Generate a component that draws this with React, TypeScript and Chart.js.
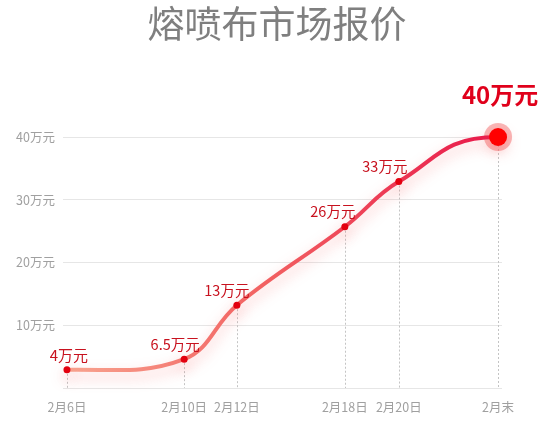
import React, { useEffect, useRef } from "react";
import { Chart, registerables } from "chart.js";

Chart.register(...registerables);

const categories = ["2月6日", "2月10日", "2月12日", "2月18日", "2月20日", "2月末"];
const xPositions = [0.9, 27.6, 39.6, 64.2, 76.5, 99.1];
const prices = [2.9, 4.6, 13.2, 25.7, 32.9, 40];
const priceLabels = ["4万元", "6.5万元", "13万元", "26万元", "33万元", "40万元"];
const yTickValues = [0, 10, 20, 30, 40];
const title = "熔喷布市场报价";

const FONT = '"Noto Sans CJK SC", "Noto Sans", sans-serif';
const labelDx = [2, -9, -10, -12, -14, 2];

const decorPlugin = {
  id: "decor",
  beforeDraw(chart: any) {
    const c = chart.ctx;
    c.save();
    c.fillStyle = "#7f7f7f";
    c.font = `37px ${FONT}`;
    c.textAlign = "center";
    c.textBaseline = "middle";
    c.fillText(title, 277, 24);
    c.restore();
  },
  beforeDatasetDraw(chart: any, args: any) {
    const meta = args.meta;
    const line = meta.dataset;
    if (!line) return;
    line.updateControlPoints(chart.chartArea, meta.iAxis);
    const pts = meta.data;
    const n = pts.length;
    if (n > 1) {
      const last = pts[n - 1];
      const prev = pts[n - 2];
      last.cp1x = last.x - (last.x - prev.x) * 0.55;
      last.cp1y = last.y;
      const first = pts[0];
      const second = pts[1];
      first.cp2x = first.x + (second.x - first.x) * 0.4;
      first.cp2y = first.y - 1;
    }
  },
  beforeDatasetsDraw(chart: any) {
    const c = chart.ctx;
    const meta = chart.getDatasetMeta(0);
    const bottom = chart.chartArea.bottom;
    c.save();
    c.strokeStyle = "#c4c4c4";
    c.lineWidth = 1;
    c.setLineDash([2, 2]);
    meta.data.forEach((p: any) => {
      c.beginPath();
      c.moveTo(Math.round(p.x) + 0.5, p.y);
      c.lineTo(Math.round(p.x) + 0.5, bottom);
      c.stroke();
    });
    c.setLineDash([]);
    const last = meta.data[meta.data.length - 1];
    c.fillStyle = "rgba(244, 120, 120, 0.55)";
    c.beginPath();
    c.arc(last.x, last.y, 14, 0, Math.PI * 2);
    c.fill();
    c.restore();
    c.save();
    c.shadowColor = "rgba(245, 90, 90, 0.38)";
    c.shadowBlur = 14;
    c.shadowOffsetY = 6;
  },
  afterDatasetsDraw(chart: any) {
    const c = chart.ctx;
    c.restore();
    const meta = chart.getDatasetMeta(0);
    c.save();
    c.textAlign = "center";
    c.textBaseline = "middle";
    meta.data.forEach((p: any, i: number) => {
      if (i === meta.data.length - 1) {
        c.font = `bold 24px ${FONT}`;
        c.fillStyle = "#e0001b";
        c.fillText(priceLabels[i], p.x + labelDx[i], p.y - 42);
      } else {
        c.font = `${i === 0 ? 15 : 14.5}px ${FONT}`;
        c.fillStyle = "#c8121f";
        c.fillText(priceLabels[i], p.x + labelDx[i], p.y - 15);
      }
    });
    c.restore();
  },
};

export default function App() {
  const ref = useRef<HTMLCanvasElement>(null);
  useEffect(() => {
    if (!ref.current) return;
    const chart = new Chart(ref.current, {
      type: "line",
      data: {
        datasets: [
          {
            data: xPositions.map((x, i) => ({ x, y: prices[i] })),
            borderWidth: 4,
            tension: 0.4,
            clip: false,
            borderColor: (ctx: any) => {
              const { chart } = ctx;
              const area = chart.chartArea;
              if (!area) return "#f06060";
              const g = chart.ctx.createLinearGradient(area.left, 0, area.right, 0);
              g.addColorStop(0, "#f8a590");
              g.addColorStop(0.45, "#f26262");
              g.addColorStop(1, "#e8174a");
              return g;
            },
            pointRadius: prices.map((_, i) => (i === prices.length - 1 ? 9 : 3.5)),
            pointBackgroundColor: prices.map((_, i) => (i === prices.length - 1 ? "#ff0000" : "#e3000f")),
            pointBorderWidth: 0,
            pointHoverRadius: 0,
          } as any,
        ],
      },
      options: {
        animation: false,
        responsive: true,
        maintainAspectRatio: false,
        layout: { padding: { top: 137, right: 48, left: 0, bottom: 0 } },
        plugins: { legend: { display: false }, tooltip: { enabled: false }, title: { display: false } },
        scales: {
          x: {
            type: "linear",
            min: 0,
            max: 100,
            afterBuildTicks: (s: any) => {
              s.ticks = xPositions.map((v) => ({ value: v }));
            },
            afterFit: (s: any) => {
              s.height = 37;
            },
            grid: { display: false, drawTicks: false },
            border: { display: false },
            ticks: {
              autoSkip: false,
              maxRotation: 0,
              padding: 12,
              color: "#a0a0a0",
              font: { size: 12.5, family: FONT },
              callback: (v: any) => {
                const i = xPositions.findIndex((p) => Math.abs(p - v) < 1e-6);
                return i >= 0 ? categories[i] : "";
              },
            },
          },
          y: {
            min: 0,
            max: 40,
            afterBuildTicks: (s: any) => {
              s.ticks = yTickValues.map((v) => ({ value: v }));
            },
            afterFit: (s: any) => {
              s.width = 63;
            },
            grid: { color: "#e6e6e6", drawTicks: false, lineWidth: 1 },
            border: { display: false },
            ticks: {
              padding: 8,
              color: "#a0a0a0",
              font: { size: 12.5, family: FONT },
              callback: (v: any) => (v === 0 ? "" : `${v}万元`),
            },
          },
        },
      } as any,
      plugins: [decorPlugin],
    });
    return () => chart.destroy();
  }, []);
  return (
    <div style={{ position: "absolute", left: 0, top: 0, width: 550, height: 425, background: "#fff" }}>
      <canvas ref={ref} />
    </div>
  );
}
